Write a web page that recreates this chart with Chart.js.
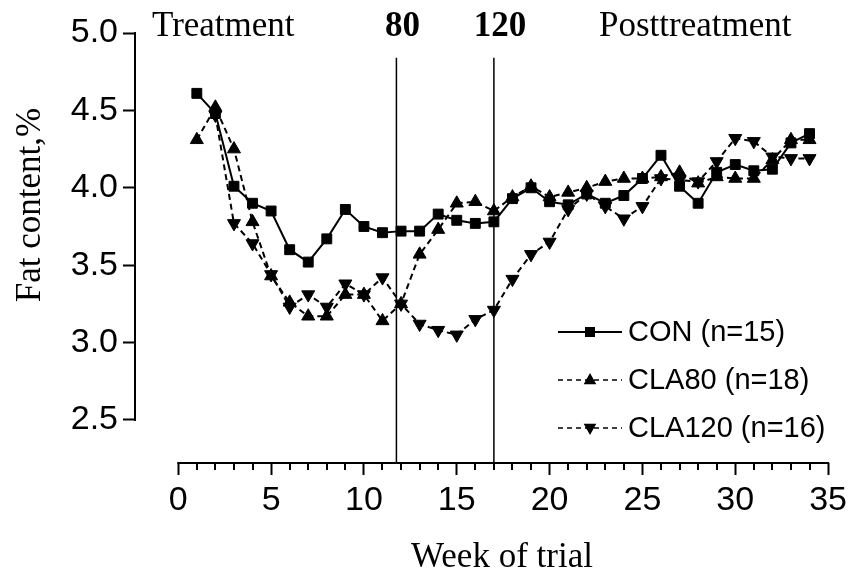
<!DOCTYPE html>
<html>
<head>
<meta charset="utf-8">
<script src="https://cdn.jsdelivr.net/npm/chart.js@4.4.1/dist/chart.umd.min.js"></script>
<style>
    html, body { margin: 0; padding: 0; background: #fff; }
    #chart { display: block; }
</style>
</head>
<body>
<canvas id="chart" width="852" height="572"></canvas>
<script>
const weeks = [1, 2, 3, 4, 5, 6, 7, 8, 9, 10, 11, 12, 13, 14, 15, 16, 17,
    18, 19, 20, 21, 22, 23, 24, 25, 26, 27, 28, 29, 30, 31, 32, 33, 34];
const conValues = [4.61, 4.48, 4.01, 3.90, 3.85, 3.60, 3.52, 3.67, 3.86, 3.75, 3.71, 3.72, 3.72, 3.83, 3.79, 3.77, 3.78,
    3.93, 4.00, 3.91, 3.89, 3.96, 3.90, 3.95, 4.06, 4.21, 4.01, 3.90, 4.10, 4.15, 4.11, 4.12, 4.29, 4.35];
const cla80Values = [4.31, 4.52, 4.25, 3.78, 3.43, 3.26, 3.17, 3.17, 3.31, 3.31, 3.14, 3.25, 3.57, 3.73, 3.90, 3.91, 3.85,
    3.94, 4.01, 3.94, 3.97, 4.00, 4.04, 4.06, 4.06, 4.07, 4.10, 4.03, 4.07, 4.06, 4.06, 4.18, 4.31, 4.31];
const cla120Values = [null, 4.47, 3.77, 3.64, 3.44, 3.23, 3.31, 3.23, 3.38, 3.31, 3.42, 3.25, 3.12, 3.08, 3.05, 3.15, 3.21,
    3.41, 3.57, 3.65, 3.86, 3.96, 3.88, 3.80, 3.88, 4.06, 4.05, 4.04, 4.17, 4.32, 4.30, 4.20, 4.19, 4.19];
const seriesLabels = ['CON (n=15)', 'CLA80 (n=18)', 'CLA120 (n=16)'];
const xTicks = [0, 5, 10, 15, 20, 25, 30, 35];
const yTicks = [2.5, 3.0, 3.5, 4.0, 4.5, 5.0];
const periodBreaks = [11.75, 17];
const periodLabels = ['80', '120'];

const sans = '"Liberation Sans", Arial, sans-serif';
const serif = '"Liberation Serif", "Times New Roman", serif';

function toPoints(values) {
    return weeks.map((w, i) => ({ x: w, y: values[i] }));
}

// small filled markers for the hand drawn legend
function drawMarker(ctx, style, x, y, r) {
    ctx.beginPath();
    if (style === 'rect') {
        ctx.rect(x - r, y - r, 2 * r, 2 * r);
    } else {
        const dir = style === 'down' ? -1 : 1;
        ctx.moveTo(x, y - dir * r);
        ctx.lineTo(x + 0.9 * r, y + dir * 0.6 * r);
        ctx.lineTo(x - 0.9 * r, y + dir * 0.6 * r);
        ctx.closePath();
    }
    ctx.fill();
}

const framePlugin = {
    id: 'frame',
    beforeDatasetsDraw(chart) {
        const { ctx, chartArea, scales: { x, y } } = chart;
        ctx.save();
        ctx.strokeStyle = '#000';
        ctx.lineWidth = 2;

        // offset axes: y from 2.5 to 5.0, x from 0 to 35
        ctx.beginPath();
        ctx.moveTo(chartArea.left, y.getPixelForValue(yTicks[0]) + 1);
        ctx.lineTo(chartArea.left, y.getPixelForValue(yTicks[yTicks.length - 1]) - 1);
        ctx.moveTo(x.getPixelForValue(xTicks[0]) - 1, chartArea.bottom);
        ctx.lineTo(x.getPixelForValue(xTicks[xTicks.length - 1]) + 1, chartArea.bottom);
        ctx.stroke();

        // minor ticks every week
        ctx.beginPath();
        for (let w = xTicks[0] + 1; w < xTicks[xTicks.length - 1]; w++) {
            if (w % 5 === 0) continue;
            const px = Math.round(x.getPixelForValue(w));
            ctx.moveTo(px, chartArea.bottom);
            ctx.lineTo(px, chartArea.bottom + 7);
        }
        ctx.stroke();

        // treatment period boundaries
        ctx.lineWidth = 1.5;
        ctx.beginPath();
        periodBreaks.forEach(b => {
            const px = x.getPixelForValue(b);
            ctx.moveTo(px, y.getPixelForValue(4.84));
            ctx.lineTo(px, chartArea.bottom);
        });
        ctx.stroke();
        ctx.restore();
    },
    afterDraw(chart) {
        const { ctx, scales: { x } } = chart;
        ctx.save();
        ctx.fillStyle = '#000';

        // period captions
        ctx.textBaseline = 'alphabetic';
        ctx.font = '35px ' + serif;
        ctx.textAlign = 'left';
        ctx.fillText('Treatment', 152, 36);
        ctx.fillText('Posttreatment', 599, 36);
        ctx.font = 'bold 35px ' + serif;
        ctx.textAlign = 'center';
        periodBreaks.forEach((b, i) => {
            ctx.fillText(periodLabels[i], x.getPixelForValue(b) + 6, 36);
        });

        // axis titles
        ctx.font = '35px ' + serif;
        ctx.fillText('Week of trial', 502, 567);
        ctx.save();
        ctx.translate(40, 205);
        ctx.rotate(-Math.PI / 2);
        ctx.textBaseline = 'alphabetic';
        ctx.fillText('Fat content,%', 0, 0);
        ctx.restore();

        // legend: line sample with marker, then label
        const styles = ['rect', 'up', 'down'];
        ctx.font = '29px ' + sans;
        ctx.textAlign = 'left';
        ctx.textBaseline = 'middle';
        chart.data.datasets.forEach((ds, i) => {
            const ly = 332 + i * 48;
            ctx.strokeStyle = '#000';
            ctx.lineWidth = i === 0 ? 2 : 1.5;
            ctx.setLineDash(i === 0 ? [] : [5, 4]);
            ctx.beginPath();
            ctx.moveTo(558, ly);
            ctx.lineTo(622, ly);
            ctx.stroke();
            ctx.setLineDash([]);
            drawMarker(ctx, styles[i], 590, ly, i === 0 ? 5 : 7);
            ctx.fillText(ds.label, 628, ly + 1);
        });
        ctx.restore();
    }
};

const common = {
    borderColor: '#000',
    backgroundColor: '#000',
    pointBackgroundColor: '#000',
    pointBorderColor: '#000',
    pointBorderWidth: 1,
    borderWidth: 2,
    tension: 0,
    fill: false
};

new Chart(document.getElementById('chart'), {
    type: 'line',
    data: {
        datasets: [
            Object.assign({}, common, {
                label: seriesLabels[0],
                data: toPoints(conValues),
                pointStyle: 'rect',
                pointRadius: 7
            }),
            Object.assign({}, common, {
                label: seriesLabels[1],
                data: toPoints(cla80Values),
                borderDash: [6, 4],
                pointStyle: 'triangle',
                pointRadius: 7.5
            }),
            Object.assign({}, common, {
                label: seriesLabels[2],
                data: toPoints(cla120Values),
                borderDash: [6, 4],
                pointStyle: 'triangle',
                pointRotation: 180,
                pointRadius: 7.5
            })
        ]
    },
    options: {
        responsive: false,
        animation: false,
        devicePixelRatio: 1,
        layout: { padding: { left: 0, right: 23, top: 33, bottom: 0 } },
        plugins: {
            legend: { display: false },
            tooltip: { enabled: false }
        },
        scales: {
            x: {
                type: 'linear',
                min: -2.33,
                max: 35,
                afterFit: s => { s.height = 109; },
                afterBuildTicks: s => { s.ticks = xTicks.map(v => ({ value: v })); },
                border: { display: false },
                grid: {
                    drawOnChartArea: false,
                    drawTicks: true,
                    tickLength: 12,
                    tickWidth: 2,
                    tickColor: '#000'
                },
                ticks: {
                    color: '#000',
                    padding: 5,
                    maxRotation: 0,
                    autoSkip: false,
                    font: { family: sans, size: 34 },
                    callback: v => String(v)
                }
            },
            y: {
                min: 2.222,
                max: 5.0,
                afterFit: s => { s.width = 135; },
                afterBuildTicks: s => { s.ticks = yTicks.map(v => ({ value: v })); },
                border: { display: false },
                grid: {
                    drawOnChartArea: false,
                    drawTicks: true,
                    tickLength: 12,
                    tickWidth: 2,
                    tickColor: '#000'
                },
                ticks: {
                    color: '#000',
                    padding: 5,
                    autoSkip: false,
                    font: { family: sans, size: 34 },
                    callback: v => v.toFixed(1)
                }
            }
        }
    },
    plugins: [framePlugin]
});
</script>
</body>
</html>
